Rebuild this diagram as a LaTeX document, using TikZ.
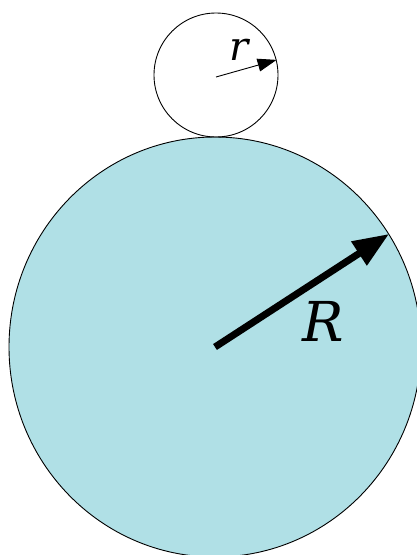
\documentclass[tikz,border=0pt]{standalone}
\usepackage{fontspec}
\setmainfont{DejaVu Serif}
\usetikzlibrary{arrows.meta,shapes.geometric}
\definecolor{disc}{RGB}{176,224,230}
\tikzset{
  ring/.style={ellipse, draw=black, line width=0.9pt, inner sep=0pt},
  bigarrow/.style={line width=7pt, -{Triangle[length=36pt,width=27pt]}},
  smallarrow/.style={line width=0.9pt, -{Triangle[length=19pt,width=13pt]}},
  lab/.style={inner sep=0pt, font=\itshape}
}
\begin{document}
\begin{tikzpicture}[x=1pt,y=-1pt]
\useasboundingbox (0,0) rectangle (417,555);
\node[ring, fill=disc, minimum width=412pt, minimum height=420pt] (big) at (215,347) {};
\node[ring, minimum width=124pt, minimum height=124pt] (small) at (216,75) {};
\coordinate (rstart) at (216,77);
\draw[bigarrow] (big.center) -- (big.33);
\draw[smallarrow] (rstart) -- (small.14);
\node[lab, font=\itshape\fontsize{55}{55}\selectfont] (Rl) at (323,321) {R};
\node[lab, font=\itshape\fontsize{40}{40}\selectfont] (rl) at (239,50) {r};
\end{tikzpicture}
\end{document}
